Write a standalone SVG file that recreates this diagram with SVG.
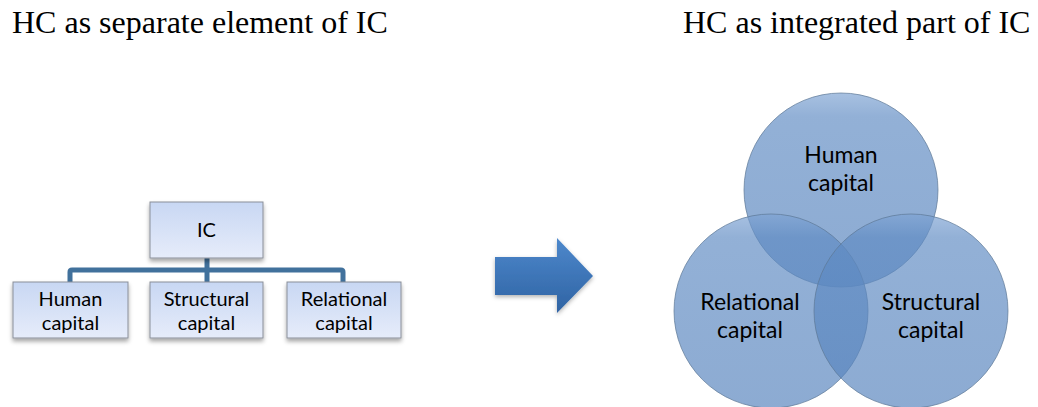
<svg xmlns="http://www.w3.org/2000/svg" width="1038" height="407" viewBox="0 0 1038 407">
  <defs>
    <linearGradient id="boxFill" x1="0" y1="0" x2="0" y2="1">
      <stop offset="0" stop-color="#c8d7f3"/>
      <stop offset="1" stop-color="#e6ecfa"/>
    </linearGradient>
    <linearGradient id="arrowFill" x1="0" y1="0" x2="0" y2="1">
      <stop offset="0" stop-color="#4d88cc"/>
      <stop offset="1" stop-color="#2f63a3"/>
    </linearGradient>
    <linearGradient id="circleFill" x1="0" y1="0" x2="0" y2="1">
      <stop offset="0" stop-color="#7ea3d3"/>
      <stop offset="0.12" stop-color="#5f8bc3"/>
      <stop offset="1" stop-color="#5683bd"/>
    </linearGradient>
    <filter id="shadow" x="-20%" y="-20%" width="140%" height="150%">
      <feDropShadow dx="0" dy="3" stdDeviation="2" flood-color="#000" flood-opacity="0.35"/>
    </filter>
    <filter id="arrowShadow" x="-20%" y="-20%" width="140%" height="150%">
      <feDropShadow dx="0" dy="2" stdDeviation="2" flood-color="#000" flood-opacity="0.3"/>
    </filter>
  </defs>
  <style>
    .title { font-family: "Liberation Serif", "Times New Roman", serif; font-size: 32px; fill: #000; }
    .box { fill: url(#boxFill); stroke: #8a8f99; stroke-width: 1; filter: url(#shadow); }
    .boxText { font-family: Lato, "Liberation Sans", sans-serif; font-size: 20px; fill: #000; text-anchor: middle; }
    .link { fill: none; stroke: #41719c; stroke-width: 5; stroke-linejoin: round; stroke-linecap: butt; }
    .circle { fill: url(#circleFill); fill-opacity: 0.68; stroke: #5d7896; stroke-opacity: 0.7; stroke-width: 1; }
    .circleText { font-family: Lato, "Liberation Sans", sans-serif; font-size: 23px; fill: #000; text-anchor: middle; }
  </style>

  <rect width="1038" height="407" fill="#fff"/>

  <!-- headings -->
  <text class="title" x="12" y="33">HC as separate element of IC</text>
  <text class="title" x="683" y="33">HC as integrated part of IC</text>

  <!-- hierarchy connectors -->
  <g id="connectors">
    <path class="link" d="M207 258 V270"/>
    <path class="link" d="M70 283 V272 Q70 270 72 270 H341 Q343 270 343 272 V283"/>
    <path class="link" d="M207 270 V283"/>
  </g>

  <g id="node-ic">
    <rect class="box" x="150" y="202" width="113" height="56"/>
    <text class="boxText" x="206.5" y="237">IC</text>
  </g>
  <g id="node-human">
    <rect class="box" x="13" y="282" width="115" height="56"/>
    <text class="boxText" x="70.5" y="306">Human</text>
    <text class="boxText" x="70.5" y="330">capital</text>
  </g>
  <g id="node-structural">
    <rect class="box" x="150" y="282" width="113" height="56"/>
    <text class="boxText" x="206.5" y="306">Structural</text>
    <text class="boxText" x="206.5" y="330">capital</text>
  </g>
  <g id="node-relational">
    <rect class="box" x="287" y="282" width="114" height="56"/>
    <text class="boxText" x="344" y="306">Relational</text>
    <text class="boxText" x="344" y="330">capital</text>
  </g>

  <!-- transition arrow -->
  <g id="arrow">
    <polygon points="495,257 557,257 557,238 593,276 557,313 557,295 495,295" fill="url(#arrowFill)" filter="url(#arrowShadow)"/>
  </g>

  <!-- overlapping capital circles -->
  <g id="circle-human">
    <circle class="circle" cx="841" cy="190" r="97"/>
  </g>
  <g id="circle-relational">
    <circle class="circle" cx="771" cy="311" r="97"/>
  </g>
  <g id="circle-structural">
    <circle class="circle" cx="911" cy="311" r="97"/>
  </g>
  <g id="circle-labels">
    <text class="circleText" x="841" y="163">Human</text>
    <text class="circleText" x="841" y="191">capital</text>
    <text class="circleText" x="750" y="310">Relational</text>
    <text class="circleText" x="750" y="338">capital</text>
    <text class="circleText" x="931" y="310">Structural</text>
    <text class="circleText" x="931" y="338">capital</text>
  </g>
</svg>
